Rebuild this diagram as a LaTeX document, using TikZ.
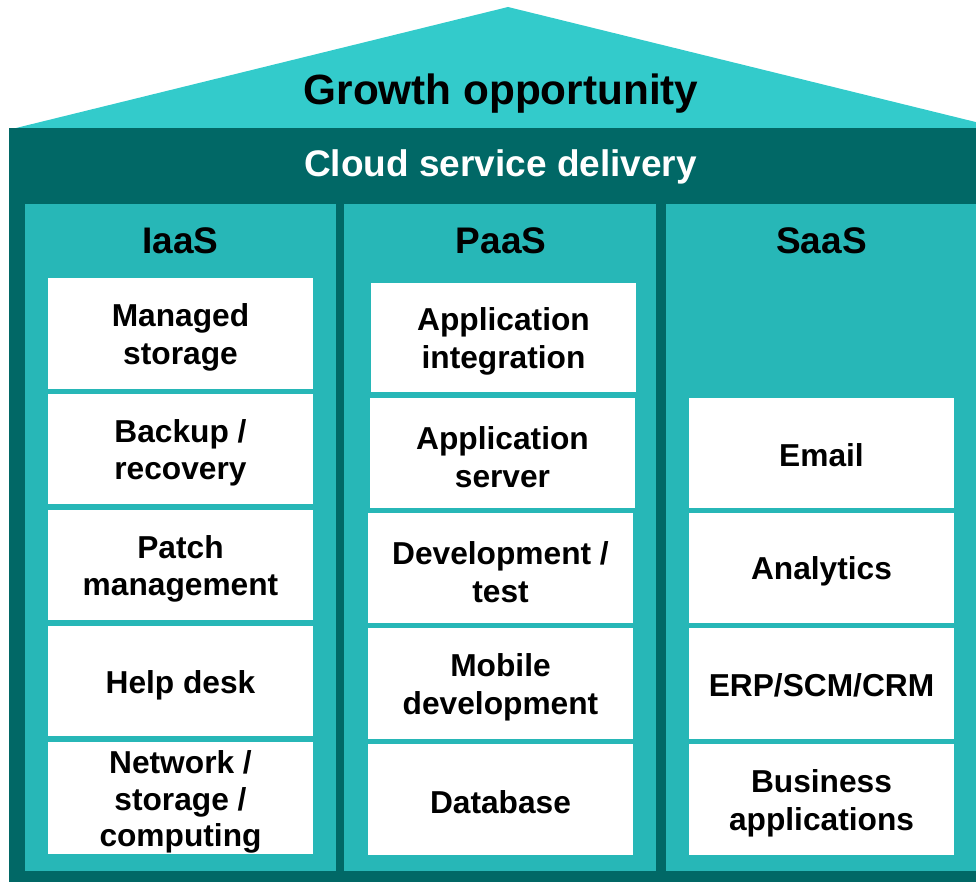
\documentclass[tikz,border=0pt]{standalone}
\usepackage{fontspec}
\setmainfont{Liberation Sans}
\definecolor{roofc}{HTML}{33CBCB}
\definecolor{darkc}{HTML}{016866}
\definecolor{colc}{HTML}{27B7B7}
\begin{document}
\begin{tikzpicture}[x=1pt,y=-1pt,
  cellbox/.style={fill=white, inner sep=0pt, minimum width=265pt, minimum height=111pt},
  celltext/.style={inner sep=0pt, align=center, font=\bfseries\fontsize{31.7}{37.5}\selectfont},
  head/.style={anchor=base, inner sep=0pt, font=\bfseries\fontsize{37}{40}\selectfont},
  colbox/.style={fill=colc}]
\useasboundingbox (0,0) rectangle (976,882);
\clip (0,0) rectangle (976,882);
% roof
\fill[roofc] (16,128) -- (508,7) -- (1000,128) -- cycle;
% dark frame
\fill[darkc] (9,128) rectangle (990,882);
% columns
\fill[colbox] (25,204) rectangle (336,871);
\fill[colbox] (344,204) rectangle (656,871);
\fill[colbox] (666,204) rectangle (990,871);
% titles
\node[anchor=base, inner sep=0pt, font=\bfseries\fontsize{42.3}{46}\selectfont] (growth) at (501,105) {Growth opportunity};
\node[head, text=white] (cloud) at (500.5,177) {Cloud service delivery};
\node[head] (iaas) at (180.5,254) {IaaS};
\node[head] (paas) at (501,254) {PaaS};
\node[head] (saas) at (821.5,254) {SaaS};
% IaaS
\node[cellbox] (i1) at (180.5,333.5) {};
\node[cellbox, minimum height=110pt] (i2) at (180.5,449) {};
\node[cellbox, minimum height=110pt] (i3) at (180.5,565) {};
\node[cellbox, minimum height=110pt] (i4) at (180.5,681) {};
\node[cellbox, minimum height=112pt] (i5) at (180.5,798) {};
\node[celltext] (i1t) at ([yshift=-4pt]i1.center) {Managed\\storage};
\node[celltext] (i2t) at ([yshift=-4pt]i2.center) {Backup /\\recovery};
\node[celltext] (i3t) at ([yshift=-4pt]i3.center) {Patch\\management};
\node[celltext] (i4t) at ([yshift=-4pt]i4.center) {Help desk};
\node[celltext, font=\bfseries\fontsize{31.7}{36.5}\selectfont] (i5t) at ([yshift=-4pt]i5.center) {Network /\\storage /\\computing};
% PaaS
\node[cellbox, minimum height=109pt] (p1) at (503.5,337.5) {};
\node[cellbox, minimum height=110pt] (p2) at (502.5,453) {};
\node[cellbox, minimum height=110pt] (p3) at (500.5,568) {};
\node[cellbox] (p4) at (500.5,683.5) {};
\node[cellbox] (p5) at (500.5,799.5) {};
\node[celltext] (p1t) at ([yshift=-4pt]p1.center) {Application\\integration};
\node[celltext] (p2t) at ([yshift=-4pt]p2.center) {Application\\server};
\node[celltext] (p3t) at ([yshift=-4pt]p3.center) {Development /\\test};
\node[celltext] (p4t) at ([yshift=-4pt]p4.center) {Mobile\\development};
\node[celltext] (p5t) at ([yshift=-3pt]p5.center) {Database};
% SaaS
\node[cellbox, minimum height=110pt] (s1) at (821.5,453) {};
\node[cellbox, minimum height=110pt] (s2) at (821.5,568) {};
\node[cellbox] (s3) at (821.5,683.5) {};
\node[cellbox] (s4) at (821.5,799.5) {};
\node[celltext] (s1t) at ([yshift=-2pt]s1.center) {Email};
\node[celltext] (s2t) at ([yshift=-3pt]s2.center) {Analytics};
\node[celltext] (s3t) at ([yshift=-2pt]s3.center) {ERP/SCM/CRM};
\node[celltext] (s4t) at ([yshift=-4pt]s4.center) {Business\\applications};
\end{tikzpicture}
\end{document}
